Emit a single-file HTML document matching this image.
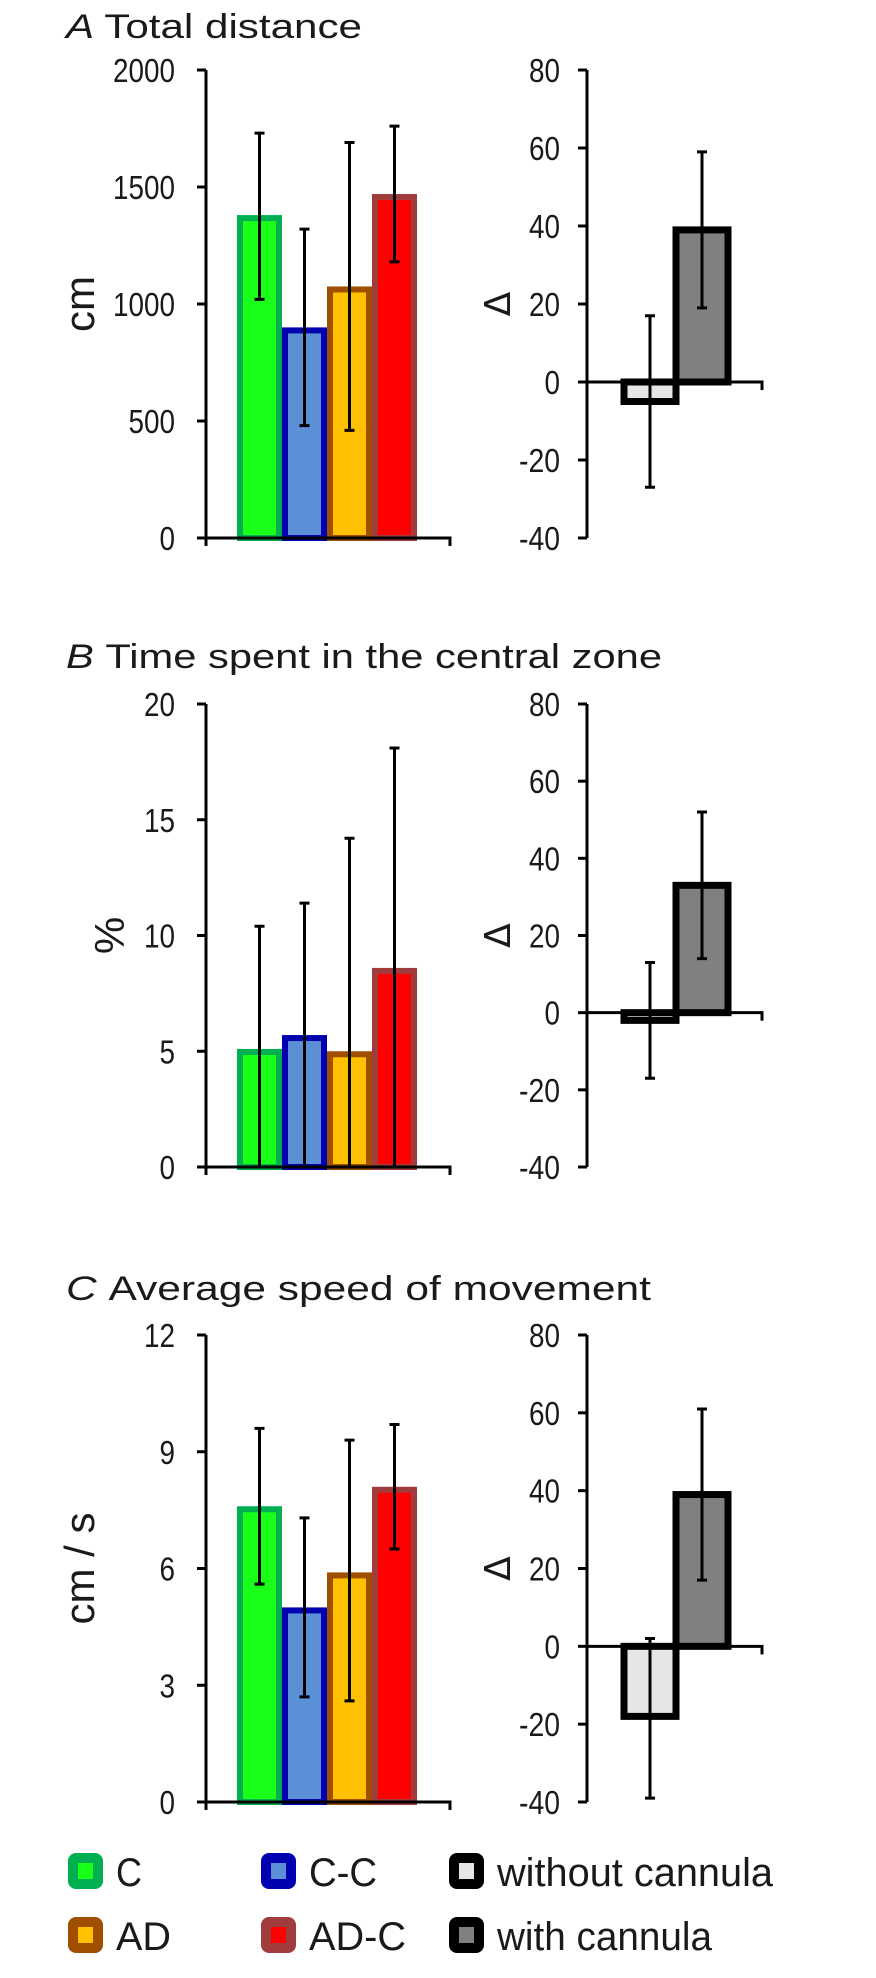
<!DOCTYPE html>
<html><head><meta charset="utf-8"><style>
html,body{margin:0;padding:0;background:#fff;}
svg{display:block;font-family:"Liberation Sans",sans-serif;}
</style></head><body>
<svg id="fig" width="876" height="1978" viewBox="0 0 876 1978" xmlns="http://www.w3.org/2000/svg"></svg>
<script>
const groups = ["C","C-C","AD","AD-C"];
const deltaGroups = ["without cannula","with cannula"];
const titlesLetter = ["A","B","C"];
const titlesText = ["Total distance","Time spent in the central zone","Average speed of movement"];
const yLabels = ["cm","%","cm / s"];
const ticksA = [0,500,1000,1500,2000];
const ticksB = [0,5,10,15,20];
const ticksC = [0,3,6,9,12];
const ticksDelta = [-40,-20,0,20,40,60,80];
const valuesA = [1380,900,1075,1470];
const lowA = [1020,480,460,1180];
const highA = [1730,1320,1690,1760];
const valuesB = [5.1,5.7,5.0,8.6];
const lowB = [0,0,0,0];
const highB = [10.4,11.4,14.2,18.1];
const valuesC = [7.6,5.0,5.9,8.1];
const lowC = [5.6,2.7,2.6,6.5];
const highC = [9.6,7.3,9.3,9.7];
const deltaA = [-5,39], deltaLowA = [-27,19], deltaHighA = [17,59];
const deltaB = [-2,33], deltaLowB = [-17,14], deltaHighB = [13,52];
const deltaC = [-18,39], deltaLowC = [-39,17], deltaHighC = [2,61];

const fills = ["#1aff1a","#5b8fd6","#ffc000","#ff0000"];
const strokes = ["#00b050","#0000b0","#a04f00","#a03c3c"];
const gFills = ["#e6e6e6","#808080"];
const NS="http://www.w3.org/2000/svg";
const svg=document.getElementById('fig');
function el(tag,attrs,parent){const e=document.createElementNS(NS,tag);for(const k in attrs)e.setAttribute(k,attrs[k]);(parent||svg).appendChild(e);return e;}
function tlen(s){let w=0;for(const c of String(s))w+=(c=='-'?10:15.5);return w;}

const titleW=[296,596,585];
const panels=[
 {top:70,bot:538,ttlY:38,ticks:ticksA,vals:valuesA,lo:lowA,hi:highA,d:deltaA,dl:deltaLowA,dh:deltaHighA},
 {top:704,bot:1167,ttlY:668,ticks:ticksB,vals:valuesB,lo:lowB,hi:highB,d:deltaB,dl:deltaLowB,dh:deltaHighB},
 {top:1335,bot:1802,ttlY:1300,ticks:ticksC,vals:valuesC,lo:lowC,hi:highC,d:deltaC,dl:deltaLowC,dh:deltaHighC}
];
const AX=206, AXEND=450, RAX=587, RZEND=762;
panels.forEach((p,i)=>{
 const g=el('g',{});
 
 
 const t=el('text',{x:66,y:p.ttlY,'font-size':34,fill:'#1a1a1a',textLength:titleW[i],lengthAdjust:'spacingAndGlyphs'},g);
 
 
 const ts=el('tspan',{'font-style':'italic'},t);ts.textContent=titlesLetter[i]+' ';
 const ts2=el('tspan',{},t);ts2.textContent=titlesText[i];
 const tmax=p.ticks[p.ticks.length-1];
 const y=v=>p.bot-(v/tmax)*(p.bot-p.top);
 const bw=45, bx0=237;
 p.vals.forEach((v,j)=>{
  const x=bx0+j*bw;
  const r=el('rect',{x:x+3,y:y(v)+3,width:bw-6,height:p.bot-y(v)-3,fill:fills[j],stroke:strokes[j],'stroke-width':6},g);
  
  
 });
 p.vals.forEach((v,j)=>{
  const cx=bx0+j*bw+bw/2;
  const e=el('path',{d:`M${cx} ${y(p.lo[j])}V${y(p.hi[j])}M${cx-5} ${y(p.lo[j])}h10M${cx-5} ${y(p.hi[j])}h10`,stroke:'#000','stroke-width':3,fill:'none'},g);
  
  
 });
 const ax=el('path',{d:`M${AX} ${p.top}V${p.bot}M${AX-9} ${p.bot}H${AXEND}v8M${AX} ${p.bot}v8`,stroke:'#000','stroke-width':3,fill:'none'},g);
 
 
 p.ticks.forEach(v=>{
  el('line',{x1:AX-9,x2:AX,y1:y(v),y2:y(v),stroke:'#000','stroke-width':3},g);
  const tl=el('text',{x:175,y:y(v)+12,'text-anchor':'end','font-size':33,fill:'#1a1a1a',textLength:tlen(v),lengthAdjust:'spacingAndGlyphs'},g);
  
  
  tl.textContent=v;
 });
 const yl=el('text',{x:0,y:0,'text-anchor':'middle','font-size':42,fill:'#1a1a1a',transform:`translate(${i==1?124:94},${(p.top+p.bot)/2}) rotate(-90)`},g);
 
 
 yl.textContent=yLabels[i];
 const ry=v=>p.bot-((v+40)/120)*(p.bot-p.top);
 const rw=52, rx0=624;
 p.d.forEach((v,j)=>{
  const x=rx0+j*rw;
  const y1=Math.min(ry(v),ry(0)), h=Math.abs(ry(v)-ry(0));
  const r=el('rect',{x:x,y:y1,width:rw,height:h,fill:gFills[j],stroke:'#000','stroke-width':7},g);
  
  
 });
 p.d.forEach((v,j)=>{
  const cx=rx0+j*rw+rw/2;
  const e=el('path',{d:`M${cx} ${ry(p.dl[j])}V${ry(p.dh[j])}M${cx-5} ${ry(p.dl[j])}h10M${cx-5} ${ry(p.dh[j])}h10`,stroke:'#000','stroke-width':3,fill:'none'},g);
  
  
 });
 const rax=el('path',{d:`M${RAX} ${p.top}V${p.bot}M${RAX} ${ry(0)}H${RZEND}v8`,stroke:'#000','stroke-width':3,fill:'none'},g);
 
 
 ticksDelta.forEach(v=>{
  el('line',{x1:RAX-9,x2:RAX,y1:ry(v),y2:ry(v),stroke:'#000','stroke-width':3},g);
  const tl=el('text',{x:560,y:ry(v)+12,'text-anchor':'end','font-size':33,fill:'#1a1a1a',textLength:tlen(v),lengthAdjust:'spacingAndGlyphs'},g);
  
  
  tl.textContent=v;
 });
 const dl=el('text',{x:0,y:0,'text-anchor':'middle','font-size':36,fill:'#1a1a1a','font-family':'"DejaVu Sans",sans-serif',transform:`translate(510,${ry(20)}) rotate(-90)`},g);
 
 
 dl.textContent='Δ';
});
const legItems=[
 {x:68,y:1853,f:fills[0],s:strokes[0],t:groups[0],w:26},
 {x:261,y:1853,f:fills[1],s:strokes[1],t:groups[1],w:68},
 {x:449,y:1853,f:gFills[0],s:'#000',t:deltaGroups[0],w:276},
 {x:68,y:1917,f:fills[2],s:strokes[2],t:groups[2],w:55},
 {x:261,y:1917,f:fills[3],s:strokes[3],t:groups[3],w:97},
 {x:449,y:1917,f:gFills[1],s:'#000',t:deltaGroups[1],w:215}
];
legItems.forEach(it=>{
 const g=el('g',{});
 
 
 el('rect',{x:it.x+5,y:it.y+5,width:25,height:26,rx:3,fill:it.f,stroke:it.s,'stroke-width':10},g);
 const t=el('text',{x:it.x+48,y:it.y+33,'font-size':40,fill:'#1a1a1a',textLength:it.w,lengthAdjust:'spacingAndGlyphs'},g);
 t.textContent=it.t;
});
</script>
</body></html>
